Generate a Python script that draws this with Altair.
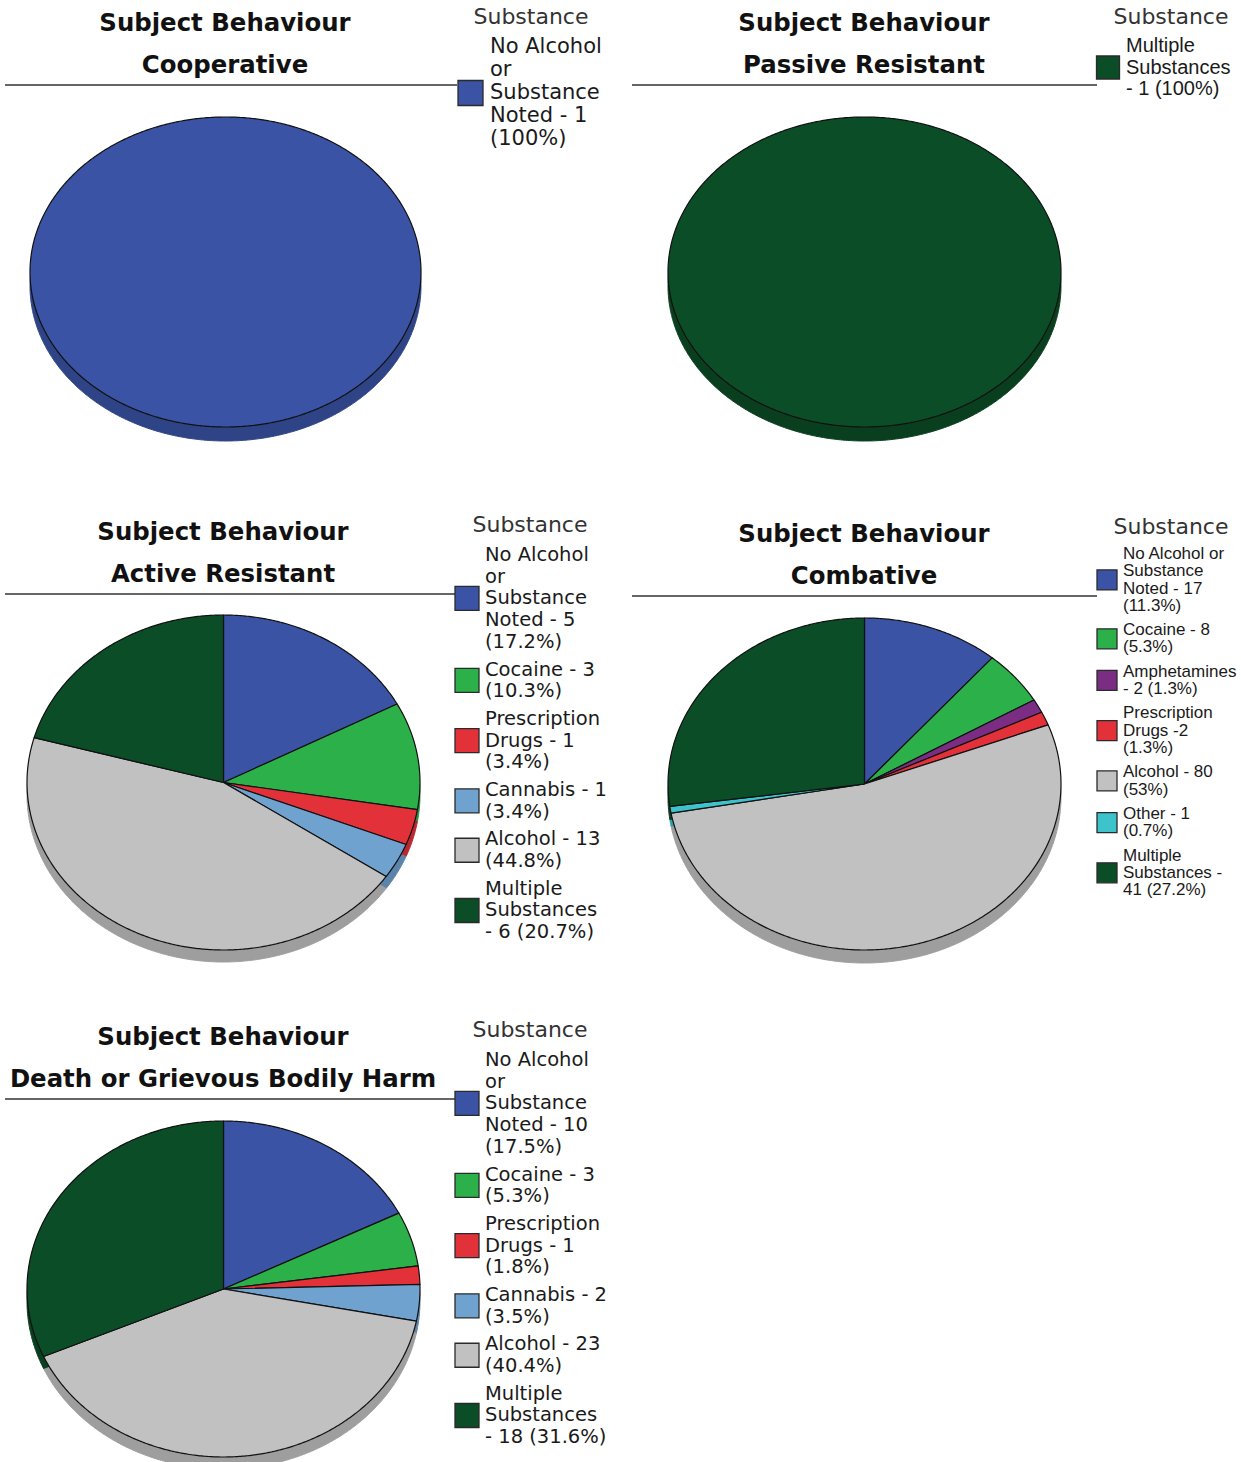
import math

import altair as alt
import pandas as pd

# ---------------------------------------------------------------------------
# Data: counts of incidents per substance, one list per subject behaviour
# ---------------------------------------------------------------------------
SUBSTANCES = [
    "No Alcohol or Substance Noted",
    "Cocaine",
    "Amphetamines",
    "Prescription Drugs",
    "Cannabis",
    "Alcohol",
    "Other",
    "Multiple Substances",
]
COOPERATIVE = [1, 0, 0, 0, 0, 0, 0, 0]
PASSIVE_RESISTANT = [0, 0, 0, 0, 0, 0, 0, 1]
ACTIVE_RESISTANT = [5, 3, 0, 1, 1, 13, 0, 6]
COMBATIVE = [17, 8, 2, 2, 0, 80, 1, 41]
DEATH_OR_GBH = [10, 3, 0, 1, 2, 23, 0, 18]

BEHAVIOURS = [
    "Cooperative",
    "Passive Resistant",
    "Active Resistant",
    "Combative",
    "Death or Grievous Bodily Harm",
]
COUNTS = [COOPERATIVE, PASSIVE_RESISTANT, ACTIVE_RESISTANT, COMBATIVE, DEATH_OR_GBH]

# ---------------------------------------------------------------------------
# Styling
# ---------------------------------------------------------------------------
PALETTE = {
    "No Alcohol or Substance Noted": "#3a53a4",
    "Cocaine": "#2cb04a",
    "Amphetamines": "#7b2d84",
    "Prescription Drugs": "#e3313a",
    "Cannabis": "#70a2d0",
    "Alcohol": "#c1c1c1",
    "Other": "#3ec3cc",
    "Multiple Substances": "#0b4d27",
}

# legend label wrapping (n = count, p = percentage)
WIDE_LABELS = {
    "No Alcohol or Substance Noted": "No Alcohol\nor\nSubstance\nNoted - {n}\n({p})",
    "Cocaine": "Cocaine - {n}\n({p})",
    "Amphetamines": "Amphetamines\n- {n} ({p})",
    "Prescription Drugs": "Prescription\nDrugs - {n}\n({p})",
    "Cannabis": "Cannabis - {n}\n({p})",
    "Alcohol": "Alcohol - {n}\n({p})",
    "Other": "Other - {n}\n({p})",
    "Multiple Substances": "Multiple\nSubstances\n- {n} ({p})",
}
NARROW_LABELS = {
    "No Alcohol or Substance Noted": "No Alcohol or\nSubstance\nNoted - {n}\n({p})",
    "Cocaine": "Cocaine - {n}\n({p})",
    "Amphetamines": "Amphetamines\n- {n} ({p})",
    "Prescription Drugs": "Prescription\nDrugs -{n}\n({p})",
    "Cannabis": "Cannabis - {n}\n({p})",
    "Alcohol": "Alcohol - {n}\n({p})",
    "Other": "Other - {n}\n({p})",
    "Multiple Substances": "Multiple\nSubstances -\n{n} ({p})",
}

# panel layout: ellipse box, title, separator rule and legend placement
LAYOUT = [
    dict(cx=225.5, cy=272, a=195.5, b=155, depth=14,
         tx=225, ty=31, rule=(5, 457, 85),
         lg_tx=531, lg_ty=17, sw_x=470.5, sw=25, lab_x=490, y0=47, pitch=23, gap=6,
         font="DejaVu Sans", size=21, labels=WIDE_LABELS),
    dict(cx=864.5, cy=272, a=196.5, b=155, depth=14,
         tx=864, ty=31, rule=(632, 1097, 85),
         lg_tx=1171, lg_ty=17, sw_x=1108, sw=23, lab_x=1126, y0=46, pitch=21.5, gap=6,
         font="Liberation Sans", size=20, labels=WIDE_LABELS),
    dict(cx=223.5, cy=782.5, a=196.5, b=167.5, depth=12,
         tx=223, ty=540, rule=(5, 457, 594),
         lg_tx=530, lg_ty=525, sw_x=467, sw=24, lab_x=485, y0=555, pitch=21.7, gap=6,
         font="DejaVu Sans", size=19.5, labels=WIDE_LABELS),
    dict(cx=864.5, cy=784, a=196.5, b=166, depth=13,
         tx=864, ty=542, rule=(632, 1097, 596),
         lg_tx=1171, lg_ty=527, sw_x=1107, sw=20, lab_x=1123, y0=554, pitch=17.3, gap=7,
         font="Liberation Sans", size=17, labels=NARROW_LABELS),
    dict(cx=223.5, cy=1289, a=196.5, b=168, depth=12,
         tx=223, ty=1045, rule=(5, 457, 1099),
         lg_tx=530, lg_ty=1030, sw_x=467, sw=24, lab_x=485, y0=1060, pitch=21.7, gap=6,
         font="DejaVu Sans", size=19.5, labels=WIDE_LABELS),
]

TEXT_COLOR = "#1a1a1a"


def darken(hex_color, factor=0.82):
    r, g, b = (int(hex_color[i:i + 2], 16) for i in (1, 3, 5))
    return "#{:02x}{:02x}{:02x}".format(int(r * factor), int(g * factor), int(b * factor))


def fmt_pct(n, total):
    s = f"{100 * n / total:.1f}"
    if s.endswith(".0"):
        s = s[:-2]
    return s + "%"


def slice_frame(counts):
    """Outline points of each pie slice on the unit circle, clockwise from 12 o'clock."""
    total = sum(counts)
    rows = []
    start = 0.0
    for key, n in zip(SUBSTANCES, counts):
        if n == 0:
            continue
        frac = n / total
        t0, t1 = start * 360.0, (start + frac) * 360.0
        steps = max(2, int(math.ceil((t1 - t0) / 0.5)) + 1)
        full = frac > 0.9999
        pts = [] if full else [(0.0, 0.0)]
        for s in range(steps):
            t = math.radians(t0 + (t1 - t0) * s / (steps - 1))
            pts.append((math.sin(t), math.cos(t)))
        if not full:
            pts.append((0.0, 0.0))
        for i, (px, py) in enumerate(pts):
            rows.append(dict(key=key, i=i, px=px, py=py,
                             fill=PALETTE[key], side=darken(PALETTE[key])))
        start += frac
    return pd.DataFrame(rows)


def pie_layer(counts, L):
    df = slice_frame(counts)
    xs = alt.Scale(domain=[-1, 1], range=[L["cx"] - L["a"], L["cx"] + L["a"]], nice=False, zero=False)
    ys = alt.Scale(domain=[-1, 1], range=[L["cy"] + L["b"], L["cy"] - L["b"]], nice=False, zero=False)
    base = alt.Chart(df).encode(
        x=alt.X("px:Q", scale=xs, axis=None),
        y=alt.Y("py:Q", scale=ys, axis=None),
        detail="key:N",
        order="i:Q",
    )
    side = base.mark_line(yOffset=L["depth"], strokeWidth=1).encode(
        fill=alt.Fill("side:N", scale=None),
        stroke=alt.Stroke("side:N", scale=None),
    )
    top = base.mark_line(stroke="#111111", strokeWidth=1.2, strokeJoin="round").encode(
        fill=alt.Fill("fill:N", scale=None),
    )
    return alt.layer(side, top)


def legend_layer(counts, L):
    total = sum(counts)
    rows = []
    pos = 0.0
    for key, n in zip(SUBSTANCES, counts):
        if n == 0:
            continue
        label = L["labels"][key].format(n=n, p=fmt_pct(n, total))
        nl = label.count("\n") + 1
        rows.append(dict(key=key, label=label, first=pos, mid=pos + (nl - 1) / 2,
                         fill=PALETTE[key]))
        pos += nl + L["gap"] / L["pitch"]
    df = pd.DataFrame(rows)
    ys = alt.Scale(domain=[0, 1], range=[L["y0"], L["y0"] + L["pitch"]], nice=False, zero=False)
    # multi-line labels: the first line sits on "first", the swatch on the block middle
    labels = alt.Chart(df).mark_text(
        align="left", baseline="middle", lineBreak="\n", lineHeight=L["pitch"],
        font=L["font"], fontSize=L["size"], color=TEXT_COLOR,
    ).encode(
        x=alt.value(L["lab_x"]),
        y=alt.Y("first:Q", scale=ys, axis=None),
        text="label:N",
    )
    swatches = alt.Chart(df).mark_square(
        size=L["sw"] ** 2, stroke="#2a2a2a", strokeWidth=1.3, opacity=1,
    ).encode(
        x=alt.value(L["sw_x"]),
        y=alt.Y("mid:Q", scale=ys, axis=None),
        fill=alt.Fill("fill:N", scale=None),
    )
    heading = alt.Chart(pd.DataFrame({"t": ["Substance"]})).mark_text(
        align="center", baseline="middle", font="DejaVu Sans", fontSize=22, color="#333333",
    ).encode(text="t:N", x=alt.value(L["lg_tx"]), y=alt.value(L["lg_ty"]))
    return alt.layer(labels, swatches, heading)


def heading_layer(behaviour, L):
    df = pd.DataFrame({"t": [f"Subject Behaviour\n{behaviour}"]})
    title = alt.Chart(df).mark_text(
        align="center", baseline="alphabetic", lineBreak="\n", lineHeight=42,
        font="DejaVu Sans", fontWeight="bold", fontSize=24.4, color="#111111",
    ).encode(text="t:N", x=alt.value(L["tx"]), y=alt.value(L["ty"]))
    x1, x2, y = L["rule"]
    rule = alt.Chart(df).mark_rule(color="#333333", strokeWidth=1.3).encode(
        x=alt.value(x1), x2=alt.value(x2), y=alt.value(y),
    )
    return alt.layer(rule, title)


layers = []
for behaviour, counts, L in zip(BEHAVIOURS, COUNTS, LAYOUT):
    layers.append(pie_layer(counts, L))
    layers.append(heading_layer(behaviour, L))
    layers.append(legend_layer(counts, L))

chart = (
    alt.layer(*layers)
    .resolve_scale(x="independent", y="independent")
    .properties(
        width=1241,
        height=1462,
        padding=0,
        autosize=alt.AutoSizeParams(type="none"),
        background="white",
    )
    .configure_view(strokeOpacity=0)
)

chart.save("out.html", embed_options={"renderer": "svg", "actions": False})
